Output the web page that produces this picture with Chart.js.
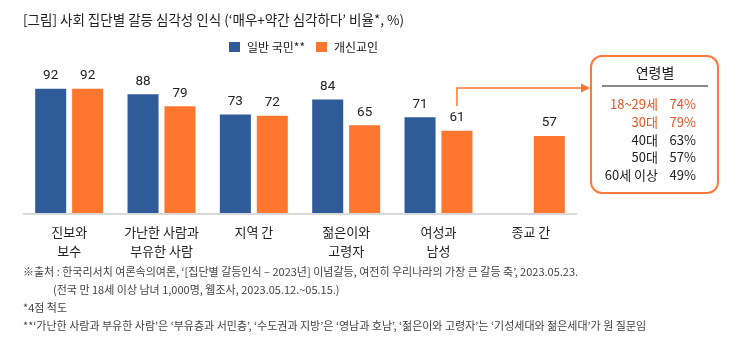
<!DOCTYPE html>
<html>
<head>
<meta charset="utf-8">
<script src="https://cdn.jsdelivr.net/npm/chart.js@4.4.0/dist/chart.umd.min.js"></script>
<style>
  html, body { margin: 0; padding: 0; background: #fff; }
  #chart { display: block; }
</style>
</head>
<body>
<canvas id="chart" width="737" height="342"></canvas>
<script>
// data
const categories = [['진보와', '보수'], ['가난한 사람과', '부유한 사람'], ['지역 간'], ['젊은이와', '고령자'], ['여성과', '남성'], ['종교 간']];
const seriesNames = ['일반 국민**', '개신교인'];
const publicValues = [92, 88, 73, 84, 71, null];
const christianValues = [92, 79, 72, 65, 61, 57];
const ageGroups = ['18~29세', '30대', '40대', '50대', '60세 이상'];
const ageValues = [74, 79, 63, 57, 49];

const BLUE = '#2f5b98';
const ORANGE = '#ff762e';
const KFONT = "'Noto Sans CJK KR', 'Noto Sans', sans-serif";
const NFONT = "Roboto, 'Noto Sans CJK KR', sans-serif";

const titleText = '[그림] 사회 집단별 갈등 심각성 인식 (‘매우+약간 심각하다’ 비율*, %)';
const notes = [
    '※출처 : 한국리서치 여론속의여론, ‘[집단별 갈등인식 – 2023년] 이념갈등, 여전히 우리나라의 가장 큰 갈등 축’, 2023.05.23.',
    '(전국 만 18세 이상 남녀 1,000명, 웹조사, 2023.05.12.~05.15.)',
    '*4점 척도',
    '**‘가난한 사람과 부유한 사람’은 ‘부유층과 서민층’, ‘수도권과 지방’은 ‘영남과 호남’, ‘젊은이와 고령자’는 ‘기성세대와 젊은세대’가 원 질문임'
];

// everything around the bars: title, legend, labels, notes, the age box
const decorations = {
    id: 'decorations',
    afterDatasetsDraw(chart) {
        const ctx = chart.ctx;
        const area = chart.chartArea;
        const xScale = chart.scales.x;
        ctx.save();

        // title
        ctx.fillStyle = '#222';
        ctx.font = '13.5px ' + KFONT;
        ctx.textBaseline = 'middle';
        ctx.textAlign = 'left';
        ctx.fillText(titleText, 23, 20);

        // legend
        const legendX = [229, 316];
        [BLUE, ORANGE].forEach((c, i) => {
            ctx.fillStyle = c;
            ctx.fillRect(legendX[i], 42, 11, 10);
            ctx.fillStyle = '#222';
            ctx.font = '12px ' + KFONT;
            ctx.fillText(seriesNames[i], legendX[i] + 18, 47);
        });

        // baseline
        ctx.strokeStyle = '#d9d9d9';
        ctx.lineWidth = 2;
        ctx.beginPath();
        ctx.moveTo(area.left, area.bottom + 1);
        ctx.lineTo(area.right, area.bottom + 1);
        ctx.stroke();

        // value labels
        ctx.fillStyle = '#222';
        ctx.font = '13.5px ' + NFONT;
        ctx.textAlign = 'center';
        chart.data.datasets.forEach((ds, di) => {
            chart.getDatasetMeta(di).data.forEach((bar, i) => {
                if (ds.data[i] == null) return;
                ctx.fillText(String(ds.data[i]), bar.x, bar.y - 13);
            });
        });

        // category labels
        ctx.font = '13px ' + KFONT;
        categories.forEach((lines, i) => {
            const x = xScale.getPixelForValue(i);
            lines.forEach((t, j) => ctx.fillText(t, x, 232 + j * 19));
        });

        // arrow from the 61 bar to the box
        const meta = chart.getDatasetMeta(1);
        const ax = meta.data[4].x;
        ctx.strokeStyle = ORANGE;
        ctx.fillStyle = ORANGE;
        ctx.lineWidth = 1.5;
        ctx.beginPath();
        ctx.moveTo(ax, 106);
        ctx.lineTo(ax, 88);
        ctx.lineTo(582, 88);
        ctx.stroke();
        ctx.beginPath();
        ctx.moveTo(590, 88);
        ctx.lineTo(581, 83.5);
        ctx.lineTo(581, 92.5);
        ctx.closePath();
        ctx.fill();

        // age box
        ctx.strokeStyle = '#ff7a3a';
        ctx.lineWidth = 2;
        ctx.beginPath();
        ctx.roundRect(591, 56, 127, 137, 11);
        ctx.stroke();
        ctx.fillStyle = '#222';
        ctx.font = '14px ' + KFONT;
        ctx.textAlign = 'center';
        ctx.fillText('연령별', 655, 73);
        ctx.strokeStyle = '#888';
        ctx.beginPath();
        ctx.moveTo(602, 86);
        ctx.lineTo(708, 86);
        ctx.stroke();
        ctx.font = '13px ' + KFONT;
        ctx.textAlign = 'right';
        ageGroups.forEach((g, i) => {
            const y = 104 + i * 17.8;
            ctx.fillStyle = i < 2 ? '#e9531f' : '#222';
            ctx.fillText(g, 658, y);
            ctx.fillText(ageValues[i] + '%', 696, y);
        });

        // notes
        ctx.fillStyle = '#444';
        ctx.font = '11px ' + KFONT;
        ctx.textAlign = 'left';
        ctx.fillText(notes[0], 23, 272);
        ctx.fillText(notes[1], 53, 290);
        ctx.fillText(notes[2], 23, 308);
        ctx.fillText(notes[3], 23, 326);

        ctx.restore();
    }
};

new Chart(document.getElementById('chart').getContext('2d'), {
    type: 'bar',
    data: {
        labels: categories,
        datasets: [
            { label: seriesNames[0], data: publicValues, backgroundColor: BLUE },
            { label: seriesNames[1], data: christianValues, backgroundColor: ORANGE }
        ]
    },
    options: {
        responsive: false,
        animation: false,
        layout: { padding: { left: 23, right: 160, top: 78, bottom: 129 } },
        categoryPercentage: 0.8,
        barPercentage: 0.84,
        scales: {
            x: { display: false },
            y: { display: false, min: 0, max: 100 }
        },
        plugins: { legend: { display: false }, tooltip: { enabled: false } }
    },
    plugins: [decorations]
});
</script>
</body>
</html>
